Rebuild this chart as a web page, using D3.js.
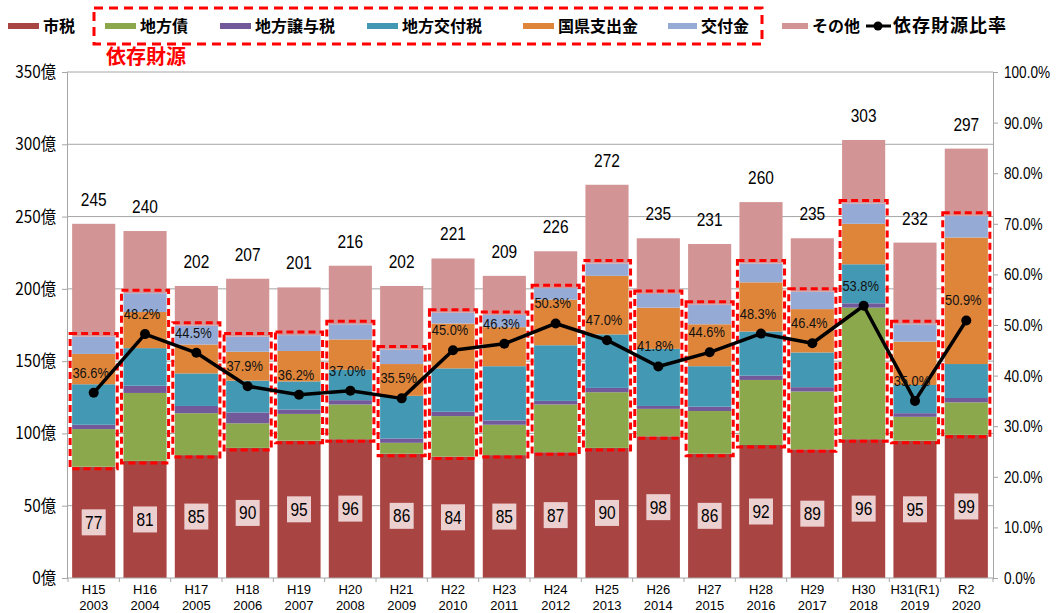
<!DOCTYPE html>
<html>
<head>
<meta charset="utf-8">
<script src="https://cdn.jsdelivr.net/npm/d3@7"></script>
<style>
  body { margin: 0; background: #fff; }
  svg { display: block; }
  .num { font-family: "Liberation Sans", Arial, sans-serif; }
  .jp { font-family: "Noto Sans CJK JP", "Noto Sans", sans-serif; }
  .narrow { transform-box: fill-box; transform-origin: center; transform: scaleX(0.86); }
  .narrowL { transform-box: fill-box; transform-origin: left center; transform: scaleX(0.8); }
  .narrowR { transform-box: fill-box; transform-origin: right center; transform: scaleX(0.9); }
</style>
</head>
<body>
<svg id="chart" width="1057" height="613"></svg>
<script>
// categories
const years = ["H15","H16","H17","H18","H19","H20","H21","H22","H23","H24","H25","H26","H27","H28","H29","H30","H31(R1)","R2"];
const yearsAD = ["2003","2004","2005","2006","2007","2008","2009","2010","2011","2012","2013","2014","2015","2016","2017","2018","2019","2020"];

// series (億円)
const shizei    = [77, 81, 85, 90, 95, 96, 86, 84, 85, 87, 90, 98, 86, 92, 89, 96, 95, 99];
const chihousai = [26, 47, 29, 17, 18.5, 24, 7.5, 28, 21, 33, 38.5, 19, 29.5, 45, 40, 91, 16.5, 22.5];
const jouyozei  = [3, 5, 5, 7.5, 3, 3, 3, 3, 3, 2.5, 3, 2, 3, 3, 3, 3, 2.5, 3];
const koufuzei  = [28, 26, 22.5, 22, 19.5, 21, 29.5, 30, 37.5, 38.5, 37, 39.5, 28, 30.5, 24, 27, 19.5, 23.5];
const kokuken   = [21, 25, 20, 20, 21, 21, 22, 31, 27, 31.5, 40.5, 28.5, 29, 34, 30, 28, 30, 87.5];
const koufukin  = [12, 13, 13, 10.5, 11, 10.5, 10, 7.5, 8.5, 8, 8.5, 9.5, 13.5, 13, 12, 14, 12, 15];
const sonota    = [78, 43, 27.5, 40, 33, 40.5, 44, 37.5, 27, 25.5, 54.5, 38.5, 42, 42.5, 37, 44, 56.5, 46.5];
const totals    = [245, 240, 202, 207, 201, 216, 202, 221, 209, 226, 272, 235, 231, 260, 235, 303, 232, 297];
const ratio     = [36.6, 48.2, 44.5, 37.9, 36.2, 37.0, 35.5, 45.0, 46.3, 50.3, 47.0, 41.8, 44.6, 48.3, 46.4, 53.8, 35.0, 50.9];

// axis ticks
const leftTicks = [0, 50, 100, 150, 200, 250, 300, 350];
const rightTicks = [0, 10, 20, 30, 40, 50, 60, 70, 80, 90, 100];

const seriesNames = ["市税","地方債","地方譲与税","地方交付税","国県支出金","交付金","その他"];
const seriesColors = ["#a84442","#8ba94c","#72599a","#4399b4","#df853a","#95abd5","#d39495"];
const seriesData = [shizei, chihousai, jouyozei, koufuzei, kokuken, koufukin, sonota];

const rows = years.map((yr, i) => {
    const r = { year: yr };
    seriesNames.forEach((s, k) => { r[s] = seriesData[k][i]; });
    return r;
});

const svg = d3.select("#chart");
const plotLeft = 67, plotRight = 993, plotTop = 72, plotBottom = 578;

const x = d3.scaleBand().domain(years).range([plotLeft, plotRight]).paddingInner(0.16).paddingOuter(0.1);
const y = d3.scaleLinear().domain([0, 350]).range([plotBottom, plotTop]);
const y2 = d3.scaleLinear().domain([0, 100]).range([plotBottom, plotTop]);

// gridlines
svg.append("g").selectAll("line")
    .data(leftTicks.filter(d => d > 0))
    .enter().append("line")
    .attr("x1", plotLeft).attr("x2", plotRight)
    .attr("y1", d => y(d)).attr("y2", d => y(d))
    .attr("stroke", "#a6a6a6").attr("stroke-width", 1);

// left axis
const leftAxis = d3.axisLeft(y).tickValues(leftTicks).tickSize(5).tickPadding(6)
    .tickFormat(d => d + "億");
const gl = svg.append("g").attr("transform", `translate(${plotLeft},0)`).call(leftAxis);
gl.select(".domain").attr("stroke", "#a6a6a6");
gl.selectAll(".tick line").attr("stroke", "#a6a6a6");
gl.selectAll("text").attr("class", "jp narrowR").style("font-size", "17px").style("fill", "#000");

// right axis
const rightAxis = d3.axisRight(y2).tickValues(rightTicks).tickSize(5).tickPadding(6)
    .tickFormat(d => d.toFixed(1) + "%");
const gr = svg.append("g").attr("transform", `translate(${plotRight},0)`).call(rightAxis);
gr.select(".domain").attr("stroke", "#a6a6a6");
gr.selectAll(".tick line").attr("stroke", "#a6a6a6");
gr.selectAll("text").attr("class", "num narrowL").style("font-size", "17px").style("fill", "#000");

// stacked bars
const stack = d3.stack().keys(seriesNames);
const layers = stack(rows);
svg.append("g").selectAll("g")
    .data(layers)
    .enter().append("g")
    .attr("fill", (d, i) => seriesColors[i])
    .selectAll("rect")
    .data(d => d)
    .enter().append("rect")
    .attr("x", d => x(d.data.year))
    .attr("width", x.bandwidth())
    .attr("y", d => y(d[1]))
    .attr("height", d => y(d[0]) - y(d[1]));

// bottom axis line and tick marks
svg.append("line")
    .attr("x1", plotLeft).attr("x2", plotRight)
    .attr("y1", plotBottom).attr("y2", plotBottom)
    .attr("stroke", "#a6a6a6");
const step = x.step();
svg.append("g").selectAll("line")
    .data(years.concat(["end"]))
    .enter().append("line")
    .attr("x1", (d, i) => i < years.length ? x(d) - (step - x.bandwidth()) / 2 : plotRight)
    .attr("x2", (d, i) => i < years.length ? x(d) - (step - x.bandwidth()) / 2 : plotRight)
    .attr("y1", plotBottom).attr("y2", plotBottom + 4)
    .attr("stroke", "#a6a6a6");

// x labels
const xl = svg.append("g").selectAll("text")
    .data(years)
    .enter().append("text")
    .attr("class", "num")
    .attr("text-anchor", "middle")
    .style("font-size", "13px");
xl.append("tspan").attr("x", d => x(d) + x.bandwidth() / 2).attr("y", 594).text(d => d);
xl.append("tspan").attr("x", d => x(d) + x.bandwidth() / 2).attr("y", 610).text((d, i) => yearsAD[i]);

// red dashed boxes around 依存財源
const depTop = layers[5], depBottom = layers[1];
svg.append("g").selectAll("rect")
    .data(years)
    .enter().append("rect")
    .attr("x", d => x(d) - 2)
    .attr("width", x.bandwidth() + 4)
    .attr("y", (d, i) => y(depTop[i][1]) - 3)
    .attr("height", (d, i) => y(depBottom[i][0]) - y(depTop[i][1]) + 5)
    .attr("fill", "none")
    .attr("stroke", "#ff0000")
    .attr("stroke-width", 3)
    .attr("stroke-dasharray", "7,4");

// 市税 value boxes
const sg = svg.append("g").selectAll("g")
    .data(years)
    .enter().append("g")
    .attr("transform", (d, i) => `translate(${x(d) + x.bandwidth() / 2},${y(shizei[i] / 2)})`);
sg.append("rect")
    .attr("x", -12).attr("y", -13).attr("width", 24).attr("height", 26)
    .attr("fill", "#eccfcf");
sg.append("text")
    .attr("class", "num narrow")
    .attr("text-anchor", "middle")
    .attr("dy", "0.36em")
    .style("font-size", "18px")
    .text((d, i) => shizei[i]);

// totals
svg.append("g").selectAll("text")
    .data(years)
    .enter().append("text")
    .attr("class", "num narrow")
    .attr("x", d => x(d) + x.bandwidth() / 2)
    .attr("y", (d, i) => y(totals[i]) - 18)
    .attr("text-anchor", "middle")
    .style("font-size", "18px")
    .text((d, i) => totals[i]);

// ratio line
const line = d3.line()
    .x((d, i) => x(years[i]) + x.bandwidth() / 2)
    .y(d => y2(d));
svg.append("path")
    .datum(ratio)
    .attr("d", line)
    .attr("fill", "none")
    .attr("stroke", "#000")
    .attr("stroke-width", 3.5)
    .attr("stroke-linejoin", "round");
svg.append("g").selectAll("circle")
    .data(ratio)
    .enter().append("circle")
    .attr("cx", (d, i) => x(years[i]) + x.bandwidth() / 2)
    .attr("cy", d => y2(d))
    .attr("r", 5)
    .attr("fill", "#000");
svg.append("g").selectAll("text")
    .data(ratio)
    .enter().append("text")
    .attr("class", "num narrow")
    .attr("x", (d, i) => x(years[i]) + x.bandwidth() / 2 - 3)
    .attr("y", d => y2(d) - 15)
    .attr("text-anchor", "middle")
    .style("font-size", "15px")
    .style("fill", "#111")
    .text(d => d.toFixed(1) + "%");

// legend
const legendX = [8, 105, 220, 367, 523, 668, 782];
const legendW = [31, 31, 31, 31, 31, 29, 26];
const lg = svg.append("g");
seriesNames.forEach((name, i) => {
    lg.append("rect")
        .attr("x", legendX[i]).attr("y", 23).attr("width", legendW[i]).attr("height", 6)
        .attr("fill", seriesColors[i]);
    lg.append("text")
        .attr("class", "jp")
        .attr("x", legendX[i] + legendW[i] + 4).attr("y", 26)
        .attr("dy", "0.35em")
        .style("font-size", "16px")
        .style("font-weight", "bold")
        .text(name);
});
lg.append("line").attr("x1", 866).attr("x2", 891).attr("y1", 26).attr("y2", 26)
    .attr("stroke", "#000").attr("stroke-width", 3);
lg.append("circle").attr("cx", 878).attr("cy", 26).attr("r", 4.5).attr("fill", "#000");
lg.append("text")
    .attr("class", "jp")
    .attr("x", 893).attr("y", 26)
    .attr("dy", "0.35em")
    .style("font-size", "18px")
    .style("font-weight", "bold")
    .style("letter-spacing", "1px")
    .text("依存財源比率");

// dashed box around dependent-source legend entries
lg.append("rect")
    .attr("x", 94).attr("y", 8).attr("width", 668).attr("height", 36)
    .attr("fill", "none")
    .attr("stroke", "#ff0000")
    .attr("stroke-width", 3)
    .attr("stroke-dasharray", "9,6");
lg.append("text")
    .attr("class", "jp")
    .attr("x", 106).attr("y", 57)
    .attr("dy", "0.35em")
    .style("font-size", "20px")
    .style("font-weight", "bold")
    .style("fill", "#ff0000")
    .text("依存財源");
</script>
</body>
</html>
